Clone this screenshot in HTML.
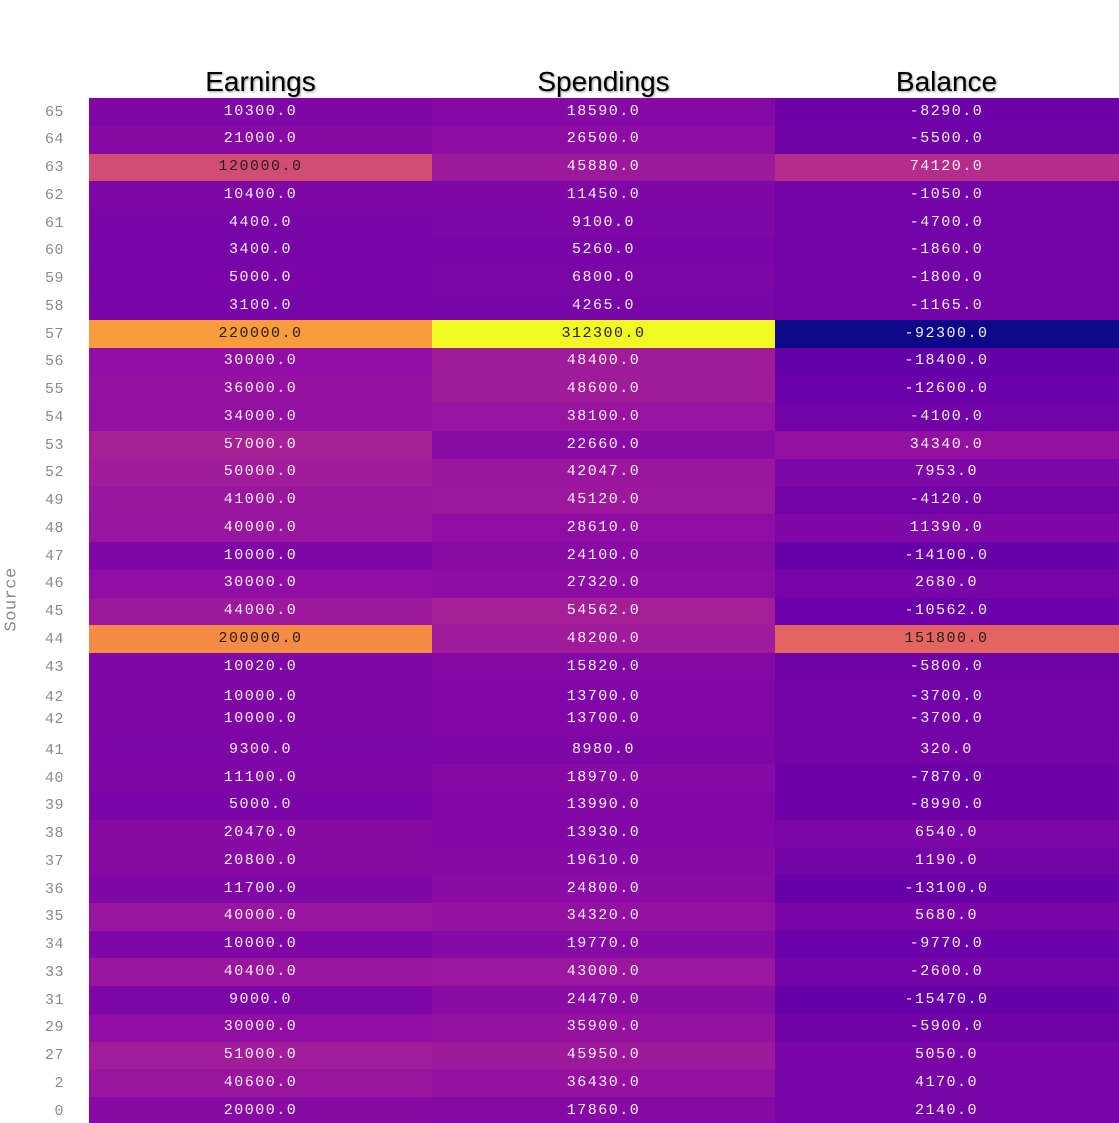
<!DOCTYPE html>
<html><head><meta charset="utf-8"><style>
html,body{margin:0;padding:0;background:#fff;width:1119px;height:1123px;overflow:hidden;position:relative}
.c{position:absolute;height:28px}
.t{position:absolute;width:343px;text-align:center;font-family:"Liberation Mono",monospace;font-size:15px;letter-spacing:1.5px;line-height:16px}
.l{position:absolute;left:20px;width:44px;text-align:right;font-family:"Liberation Mono",monospace;font-size:15px;color:#8a8a8a;line-height:16px;letter-spacing:0.5px}
.h{position:absolute;top:66px;width:343px;text-align:center;font-family:"Liberation Sans",sans-serif;font-size:28px;color:#000;text-shadow:1px 1px 2px #999}
.src{position:absolute;left:-20px;top:590px;width:64px;text-align:center;transform:rotate(-90deg);font-family:"Liberation Mono",monospace;font-size:17px;color:#8a8a8a;letter-spacing:0.5px}
</style></head><body>
<div class="h" style="left:89px">Earnings</div>
<div class="h" style="left:432px">Spendings</div>
<div class="h" style="left:775px">Balance</div>
<div class="src">Source</div>
<div id="g"></div>
<script>
var rows=[[65,10300,18590,-8290],[64,21000,26500,-5500],[63,120000,45880,74120],[62,10400,11450,-1050],[61,4400,9100,-4700],[60,3400,5260,-1860],[59,5000,6800,-1800],[58,3100,4265,-1165],[57,220000,312300,-92300],[56,30000,48400,-18400],[55,36000,48600,-12600],[54,34000,38100,-4100],[53,57000,22660,34340],[52,50000,42047,7953],[49,41000,45120,-4120],[48,40000,28610,11390],[47,10000,24100,-14100],[46,30000,27320,2680],[45,44000,54562,-10562],[44,200000,48200,151800],[43,10020,15820,-5800],[42,10000,13700,-3700],[42,10000,13700,-3700],[41,9300,8980,320],[40,11100,18970,-7870],[39,5000,13990,-8990],[38,20470,13930,6540],[37,20800,19610,1190],[36,11700,24800,-13100],[35,40000,34320,5680],[34,10000,19770,-9770],[33,40400,43000,-2600],[31,9000,24470,-15470],[29,30000,35900,-5900],[27,51000,45950,5050],[2,40600,36430,4170],[0,20000,17860,2140]];
var P=["0d0887","41049d","6a00a8","8f0da4","b12a90","cc4778","e16462","f2844b","fca636","fcce25","f0f921"].map(function(h){return [parseInt(h.substr(0,2),16),parseInt(h.substr(2,2),16),parseInt(h.substr(4,2),16)]});
function cm(t){t=Math.max(0,Math.min(1,t));var s=t*10,i=Math.min(9,Math.floor(s)),f=s-i,a=P[i],b=P[i+1];return "rgb("+[0,1,2].map(function(k){return Math.round(a[k]+(b[k]-a[k])*f)}).join(",")+")";}
var mn=-92300,mx=312300,pitch=27.75,top0=98,h="",xs=[89,432,775];
rows.forEach(function(r,i){
 var y=top0+i*pitch, ty=(i==22?719:top0+i*pitch+13.5)-8;
 if(i==21) ty=697-8;
 for(var j=0;j<3;j++){
  var t=(r[j+1]-mn)/(mx-mn);
  var top=Math.round(y), bot=Math.round(y+pitch);
  h+='<div class="c" style="left:'+xs[j]+'px;width:'+(j==2?344:343)+'px;top:'+top+'px;height:'+(bot-top)+'px;background:'+cm(t)+'"></div>';
 }
});
rows.forEach(function(r,i){
 var ty=(i==22?719:top0+i*pitch+13.5)-8;
 if(i==21) ty=697-8;
 h+='<div class="l" style="top:'+(ty+1)+'px">'+r[0]+'</div>';
 for(var j=0;j<3;j++){
  var t=(r[j+1]-mn)/(mx-mn);
  h+='<div class="t" style="left:'+xs[j]+'px;top:'+ty+'px;color:'+(t>0.5?'#2a1a1a':'#f4eef4')+'">'+r[j+1].toFixed(1)+'</div>';
 }
});
document.getElementById('g').innerHTML=h;
</script>
</body></html>
